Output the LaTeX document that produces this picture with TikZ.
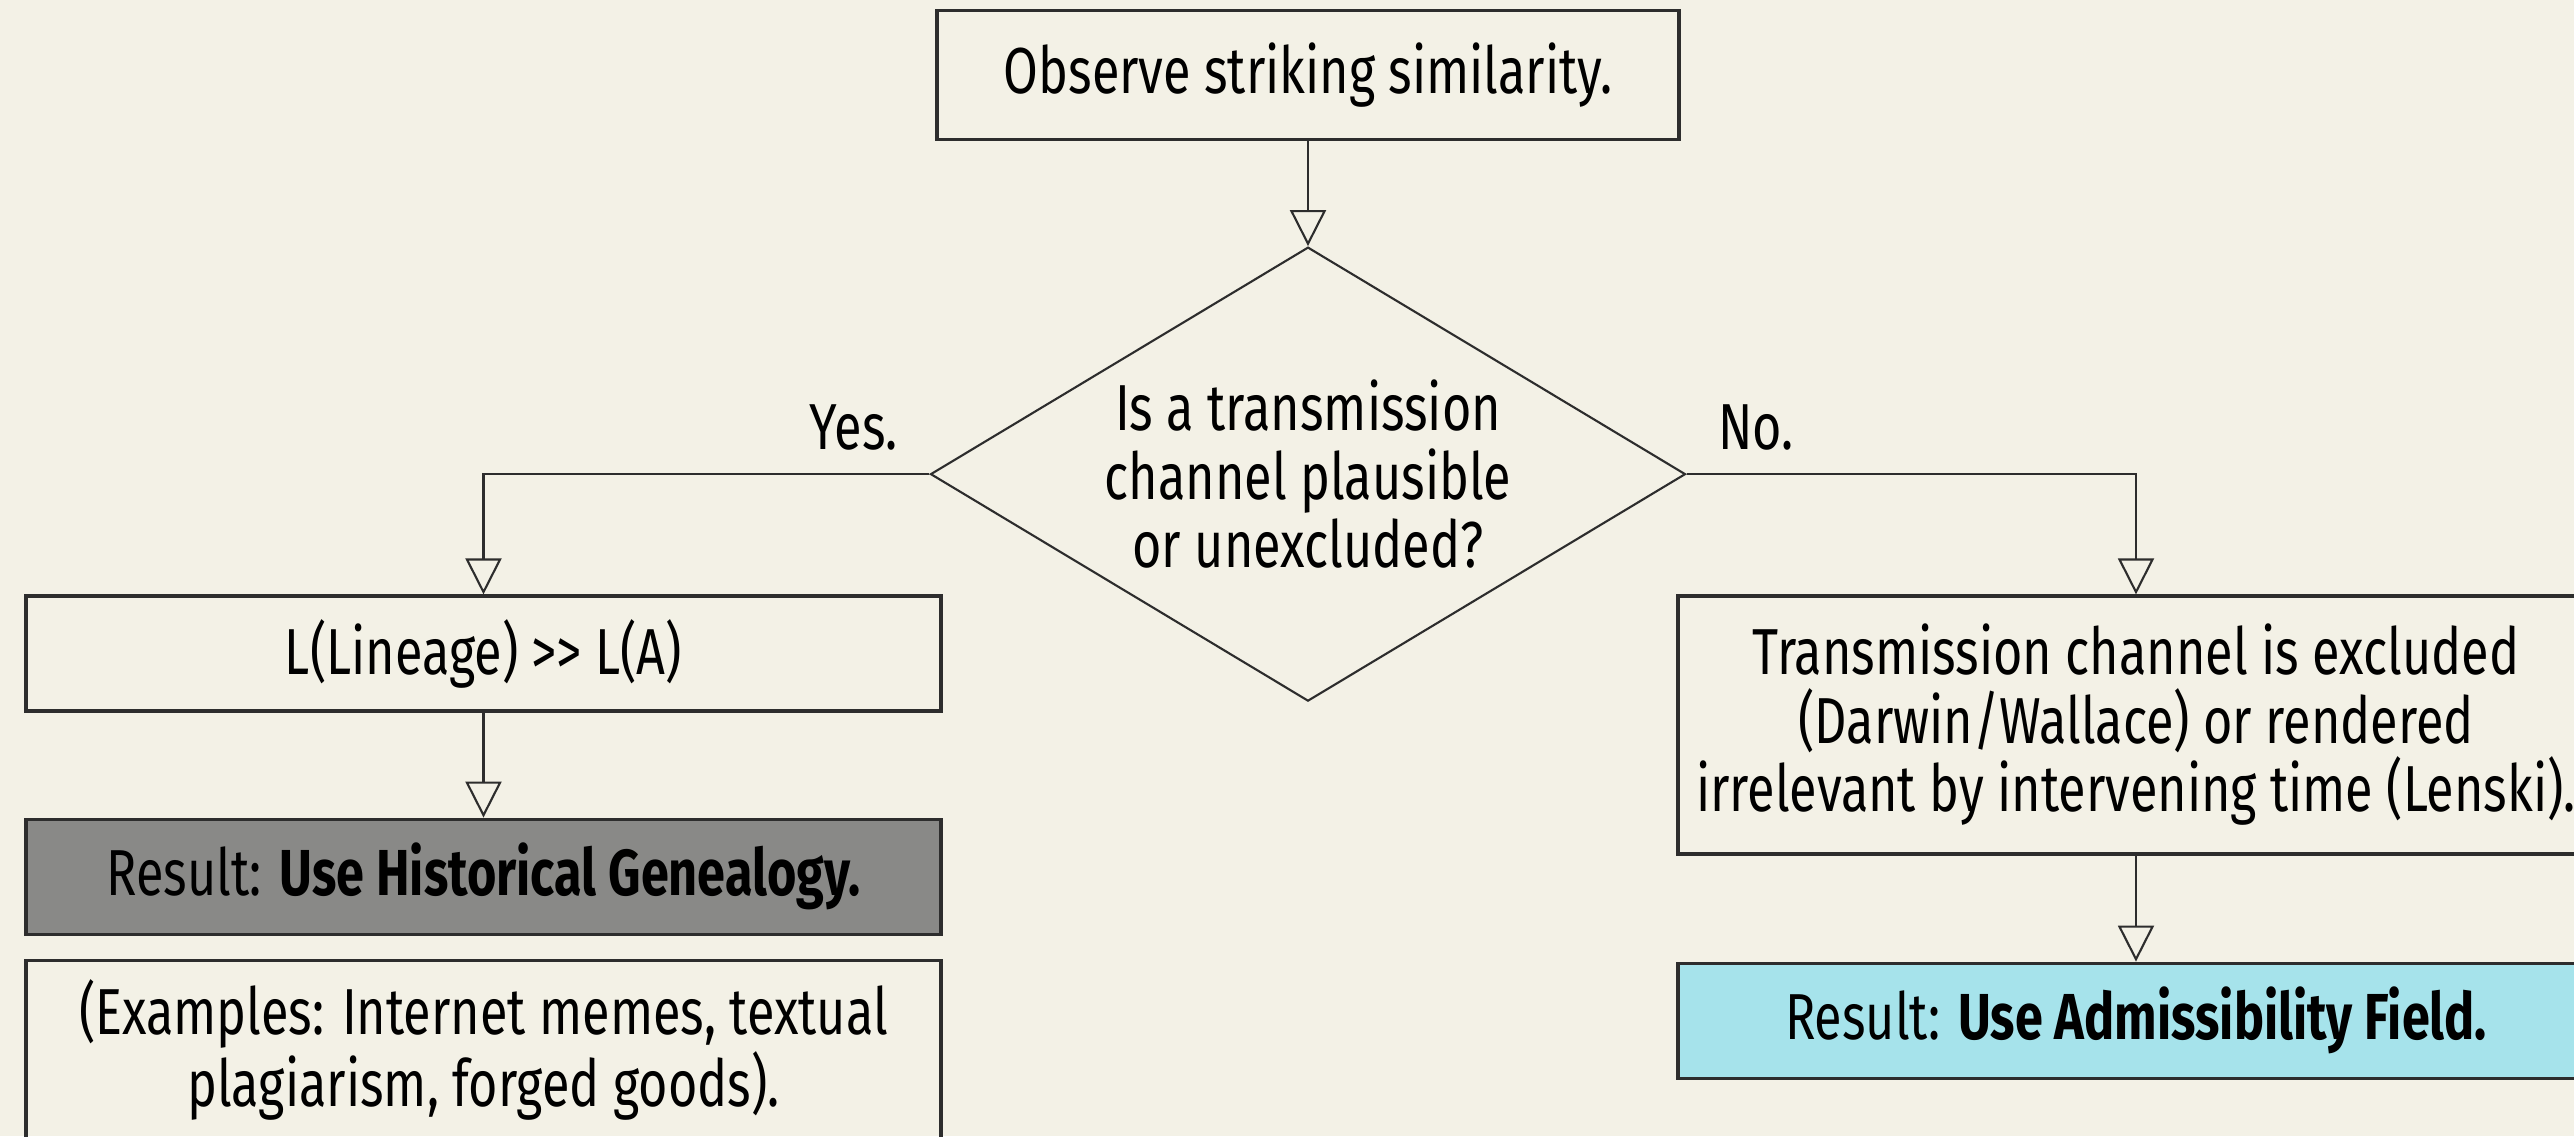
\documentclass[tikz,border=0pt]{standalone}
\usepackage{fontspec}
\setmainfont{Fira Sans}[FakeStretch=0.775]
\usetikzlibrary{arrows.meta,positioning,shapes.geometric}
\definecolor{mPaper}{RGB}{243,241,230}
\definecolor{mGray}{RGB}{137,137,135}
\definecolor{mCyan}{RGB}{166,227,235}
\definecolor{mInk}{RGB}{45,45,45}

\begin{document}
\begin{tikzpicture}[every node/.style={font=\fontsize{18.5}{19.5}\selectfont},
    box/.style={draw=mInk, line width=0.9pt, minimum width=9.15cm, minimum height=1.15cm, align=center, inner sep=0pt},
    flow/.style={draw=mInk, line width=0.6pt, -{Triangle[open,width=3.6mm,length=3.6mm]}}]
    % Paper and frame
    \fill[mPaper] (0,0) rectangle (25.74,11.36);
    \useasboundingbox (0,0) rectangle (25.74,11.36);
    % Start and question
    \node[box, minimum width=7.42cm, minimum height=1.29cm] (obs) at (13.08,10.61) {Observe striking similarity.};
    \node[diamond, aspect=1.66, draw=mInk, line width=0.6pt, minimum width=7.55cm, minimum height=4.54cm, inner sep=0pt, align=center,
      below=1.05cm of obs] (ask) {Is a transmission\\channel plausible\\or unexcluded?};
    % Left branch
    \node[box] (lin) at (4.835,4.825) {L(Lineage) {>}{>} L(A)};
    \node[box, fill=mGray, below=1.05cm of lin] (hist) {Result: \textbf{Use Historical Genealogy.}};
    \node[box, minimum height=1.79cm, below=0.23cm of hist] (ex) {(Examples: Internet memes, textual\\plagiarism, forged goods).};
    % Right branch
    \node[box, minimum width=9.16cm, minimum height=2.58cm] (excl) at (21.36,4.11)
      {Transmission channel is excluded\\(Darwin/Wallace) or rendered\\irrelevant by intervening time (Lenski).};
    \node[box, minimum width=9.16cm, fill=mCyan, below=1.06cm of excl] (adm) {Result: \textbf{Use Admissibility Field.}};
    % Branch labels
    \node[anchor=south east, inner sep=0pt] (yes) at ([xshift=-3.1mm,yshift=2.3mm]ask.west) {Yes.};
    \node[anchor=south west, inner sep=0pt] (no) at ([xshift=3.1mm,yshift=2.3mm]ask.east) {No.};
    % Connectors
    \draw[flow] (obs) -- (ask);
    \draw[flow] (ask.west) -| (lin.north);
    \draw[flow] (ask.east) -| (excl.north);
    \draw[flow] (lin) -- (hist);
    \draw[flow] (excl) -- (adm);
\end{tikzpicture}
\end{document}
